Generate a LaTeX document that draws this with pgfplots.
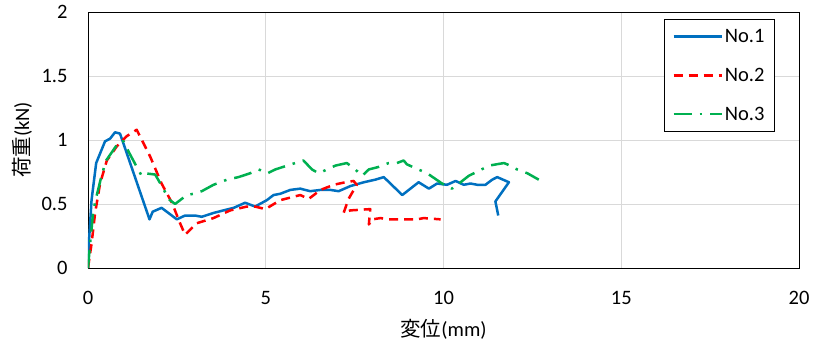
\documentclass[border=0pt]{standalone}
\usepackage{pgfplots}
\pgfplotsset{compat=1.18}
\usepackage{fontspec}
\setmainfont{Carlito}
\newfontfamily\cjk{Noto Sans CJK JP}
\definecolor{c1}{RGB}{0,112,192}
\definecolor{c2}{RGB}{255,0,0}
\definecolor{c3}{RGB}{0,176,80}
\definecolor{gridc}{RGB}{217,217,217}
\begin{document}
\begin{tikzpicture}
\path[use as bounding box] (-88bp,-75bp) rectangle (726bp,268bp);
\begin{axis}[
  scale only axis,
  width=711bp, height=256bp,
  xmin=0, xmax=20, ymin=0, ymax=2,
  xtick={0,5,10,15,20},
  ytick={0,0.5,1,1.5,2},
  yticklabels={0,0.5,1,1.5,2},
  xticklabels={0,5,10,15,20},
  grid=major,
  major grid style={gridc, line width=0.8pt},
  axis line style={black, line width=0.8pt},
  tick style={draw=none},
  ticklabel style={font=\fontsize{20.5bp}{24bp}\selectfont},
  xticklabel style={anchor=center, yshift=-30bp},
  yticklabel style={anchor=east, xshift=-17bp},
  xlabel={{\cjk 変位}(mm)},
  ylabel={{\cjk 荷重}(kN)},
  label style={font=\fontsize{20.5bp}{24bp}\selectfont},
  xlabel style={at={(axis description cs:0.5,0)}, anchor=center, yshift=-61bp},
  ylabel style={at={(axis description cs:0,0.5)}, anchor=center, yshift=66bp},
  legend style={at={(0.966,0.973)}, anchor=north east, draw=black, line width=0.8pt,
    font=\fontsize{20.5bp}{24bp}\selectfont, row sep=20bp, inner xsep=8bp, inner ysep=8bp},
  legend cell align=left,
  legend image code/.code={\draw[#1] (0bp,0bp) -- (48bp,0bp);},
  every axis plot/.append style={line width=2.5bp, line join=round},
]
\addplot[c1] coordinates {
(0,0) (0.03,0.22) (0.1,0.53) (0.23,0.82) (0.48,0.99) (0.62,1.01) (0.76,1.06) (0.90,1.05)
(1.0,0.97) (1.73,0.38) (1.82,0.44) (2.07,0.47) (2.50,0.38) (2.73,0.41) (3.01,0.41)
(3.2,0.40) (3.53,0.43) (3.81,0.45) (4.1,0.47) (4.42,0.51) (4.7,0.48) (5.03,0.53)
(5.22,0.57) (5.41,0.58) (5.69,0.61) (5.97,0.62) (6.25,0.60) (6.54,0.61) (6.82,0.61)
(7.05,0.60) (7.38,0.64) (7.76,0.67) (8.08,0.69) (8.32,0.71) (8.84,0.57) (9.30,0.67)
(9.59,0.62) (9.82,0.66) (10.1,0.65) (10.34,0.68) (10.57,0.65) (10.76,0.66) (10.95,0.65)
(11.18,0.65) (11.37,0.69) (11.51,0.71) (11.84,0.67) (11.46,0.52) (11.54,0.41)
};
\addlegendentry{No.1}
\addplot[c2, dash pattern=on 9bp off 6bp] coordinates {
(0,0) (0.1,0.19) (0.2,0.43) (0.34,0.66) (0.53,0.84) (0.81,0.95) (1.09,1.03) (1.37,1.08)
(1.75,0.87) (2.07,0.66) (2.36,0.51) (2.59,0.35) (2.73,0.26) (3.06,0.35) (3.53,0.39)
(4.0,0.45) (4.47,0.48) (4.70,0.48) (4.99,0.46) (5.41,0.53) (5.97,0.57) (6.21,0.54)
(6.54,0.61) (6.91,0.65) (7.24,0.67) (7.47,0.68) (7.56,0.65) (7.33,0.54) (7.19,0.43)
(7.38,0.45) (7.94,0.46) (7.9,0.34) (8.0,0.38) (8.23,0.39) (8.41,0.38) (8.79,0.38)
(9.26,0.38) (9.44,0.39) (9.92,0.38)
};
\addlegendentry{No.2}
\addplot[c3, dash pattern=on 18bp off 8bp on 2.5bp off 8bp] coordinates {
(0,0) (0.06,0.19) (0.15,0.45) (0.23,0.55) (0.39,0.73) (0.51,0.84) (0.71,0.92) (0.88,0.99)
(1.0,0.99) (1.14,0.91) (1.37,0.79) (1.51,0.72) (1.6,0.74) (1.89,0.73) (2.12,0.62)
(2.26,0.54) (2.45,0.50) (2.78,0.57) (2.97,0.58) (3.2,0.60) (3.53,0.65) (3.91,0.69)
(4.23,0.71) (4.56,0.74) (4.80,0.77) (5.05,0.74) (5.27,0.77) (5.6,0.80) (6.06,0.84)
(6.30,0.77) (6.49,0.74) (6.96,0.80) (7.28,0.82) (7.52,0.77) (7.71,0.72) (7.90,0.77)
(8.18,0.79) (8.46,0.82) (8.69,0.82) (8.88,0.84) (8.97,0.81) (9.21,0.78) (9.54,0.74)
(9.96,0.66) (10.24,0.62) (10.48,0.67) (10.71,0.72) (11.0,0.76) (11.28,0.80) (11.70,0.82)
(11.79,0.81) (12.07,0.77) (12.36,0.74) (12.68,0.69)
};
\addlegendentry{No.3}
\end{axis}
\end{tikzpicture}
\end{document}
